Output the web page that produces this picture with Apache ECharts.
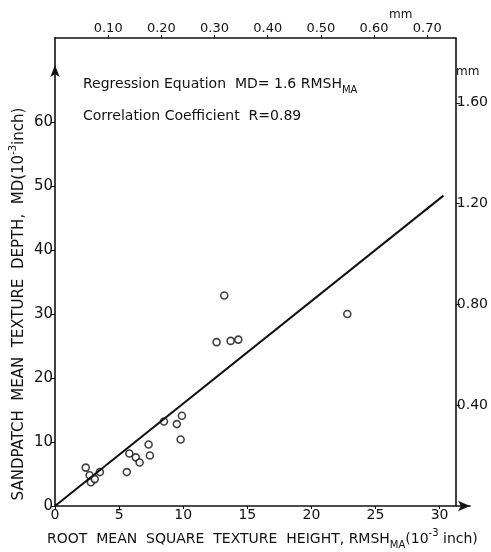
<!DOCTYPE html>
<html>
<head>
<meta charset="utf-8">
<script src="https://cdn.jsdelivr.net/npm/echarts@6/dist/echarts.min.js"></script>
<style>
html,body{margin:0;padding:0;background:#fff;}
#c{width:491px;height:552px;}
</style>
</head>
<body>
<div id="c"></div>
<script>
// RMSH_MA (10^-3 inch)
const rmsh = [2.4, 2.7, 2.8, 3.1, 3.5, 5.6, 5.8, 6.3, 6.6, 7.3, 7.4, 8.5, 9.5, 9.9, 9.8, 12.6, 13.2, 13.7, 14.3, 22.8];
// MD (10^-3 inch)
const md = [6.0, 4.8, 3.7, 4.2, 5.3, 5.3, 8.2, 7.6, 6.8, 9.6, 7.9, 13.2, 12.8, 14.1, 10.4, 25.6, 32.9, 25.8, 26.0, 30.0];
// regression line MD = 1.6 RMSH
const regX = [0, 30.3];
const regY = [0, 48.5];
// tick labels
const xTicks = [0, 5, 10, 15, 20, 25, 30];
const yTicks = [0, 10, 20, 30, 40, 50, 60];
const topTicksMM = [0.10, 0.20, 0.30, 0.40, 0.50, 0.60, 0.70];
const rightTicksMM = [0.40, 0.80, 1.20, 1.60];

const FONT = 'DejaVu Sans';
const INK = '#111';

const G_LEFT = 55, G_TOP = 38, G_H = 468;
const X_PX = 12.82, Y_PX = 6.4;
const MAIN_W = 415, FRAME_W = 401;
const xMax = MAIN_W / X_PX;
const yMax = G_H / Y_PX;
const topMax = FRAME_W / 532;
const rightMax = yMax * 0.0254;

const chart = echarts.init(document.getElementById('c'), null, {renderer: 'canvas'});

const scatterData = rmsh.map((x, i) => [x, md[i]]);
const regData = regX.map((x, i) => [x, regY[i]]);

chart.setOption({
  animation: false,
  backgroundColor: '#fff',
  grid: [
    {left: G_LEFT, top: G_TOP, width: MAIN_W, height: G_H, show: false},
    {left: G_LEFT, top: G_TOP, width: FRAME_W, height: G_H, show: false}
  ],
  xAxis: [
    {
      type: 'value', gridIndex: 0, position: 'bottom', min: 0, max: xMax,
      splitLine: {show: false},
      axisLine: {show: true, onZero: false, lineStyle: {color: INK, width: 1.6}, symbol: ['none', 'arrow'], symbolSize: [8, 12], symbolOffset: [0, 0]},
      axisTick: {show: true, length: 3, customValues: xTicks, lineStyle: {color: INK}},
      axisLabel: {customValues: xTicks, color: INK, fontFamily: FONT, fontSize: 14, margin: 2}
    },
    {
      type: 'value', gridIndex: 1, position: 'top', min: 0, max: topMax,
      splitLine: {show: false},
      axisLine: {show: true, onZero: false, lineStyle: {color: INK, width: 1.6}},
      axisTick: {show: true, length: 3, customValues: topTicksMM, lineStyle: {color: INK}},
      axisLabel: {customValues: topTicksMM, color: INK, fontFamily: FONT, fontSize: 13, margin: 3,
        formatter: v => v.toFixed(2)}
    }
  ],
  yAxis: [
    {
      type: 'value', gridIndex: 0, position: 'left', min: 0, max: yMax,
      splitLine: {show: false},
      axisLine: {show: true, onZero: false, lineStyle: {color: INK, width: 1.6}, symbol: ['none', 'arrow'], symbolSize: [7, 12], symbolOffset: [0, -27]},
      axisTick: {show: true, length: 4, customValues: yTicks, lineStyle: {color: INK}},
      axisLabel: {customValues: yTicks, color: INK, fontFamily: FONT, fontSize: 15, margin: 2}
    },
    {
      type: 'value', gridIndex: 1, position: 'right', min: 0, max: rightMax,
      splitLine: {show: false},
      axisLine: {show: true, onZero: false, lineStyle: {color: INK, width: 1.6}},
      axisTick: {show: true, length: 4, customValues: rightTicksMM, lineStyle: {color: INK}},
      axisLabel: {customValues: rightTicksMM, color: INK, fontFamily: FONT, fontSize: 14, margin: 1,
        formatter: v => v.toFixed(2)}
    }
  ],
  series: [
    {
      type: 'line', xAxisIndex: 0, yAxisIndex: 0, data: regData,
      symbol: 'none', lineStyle: {color: INK, width: 2}, silent: true
    },
    {
      type: 'scatter', xAxisIndex: 0, yAxisIndex: 0, data: scatterData,
      symbol: 'circle', symbolSize: 7,
      itemStyle: {color: '#fff', borderColor: INK, borderWidth: 1.6}
    }
  ],
  graphic: [
    {type: 'text', left: 389, top: 9, style: {text: 'mm', font: '12px ' + FONT, fill: INK}},
    {type: 'text', left: 456, top: 66, style: {text: 'mm', font: '12px ' + FONT, fill: INK}},
    {type: 'text', left: 83, top: 77, style: {
      rich: {
        b: {fontFamily: FONT, fontSize: 14, fill: INK, lineHeight: 22},
        sub: {fontFamily: FONT, fontSize: 10, fill: INK, verticalAlign: 'bottom', lineHeight: 10}
      },
      text: '{b|Regression Equation  MD= 1.6 RMSH}{sub|MA}'
    }},
    {type: 'text', left: 83, top: 109, style: {
      rich: {b: {fontFamily: FONT, fontSize: 14, fill: INK, lineHeight: 22}},
      text: '{b|Correlation Coefficient  R=0.89}'
    }},
    {type: 'text', x: 47, y: 528, style: {
      rich: {
        b: {fontFamily: FONT, fontSize: 14, fill: INK, lineHeight: 22},
        sub: {fontFamily: FONT, fontSize: 10, fill: INK, verticalAlign: 'bottom', lineHeight: 10},
        sup: {fontFamily: FONT, fontSize: 10, fill: INK, verticalAlign: 'top', lineHeight: 10}
      },
      text: '{b|ROOT  MEAN  SQUARE  TEXTURE  HEIGHT, RMSH}{sub|MA}{b|(10}{sup|-3}{b| inch)}'
    }},
    {type: 'text', x: 19, y: 304, rotation: Math.PI / 2, style: {
      rich: {
        b: {fontFamily: FONT, fontSize: 15, fill: INK, lineHeight: 22},
        sup: {fontFamily: FONT, fontSize: 10, fill: INK, verticalAlign: 'top', lineHeight: 10}
      },
      text: '{b|SANDPATCH  MEAN  TEXTURE  DEPTH,  MD(10}{sup|-3}{b|inch)}',
      align: 'center', verticalAlign: 'middle'
    }}
  ]
});
</script>
</body>
</html>
